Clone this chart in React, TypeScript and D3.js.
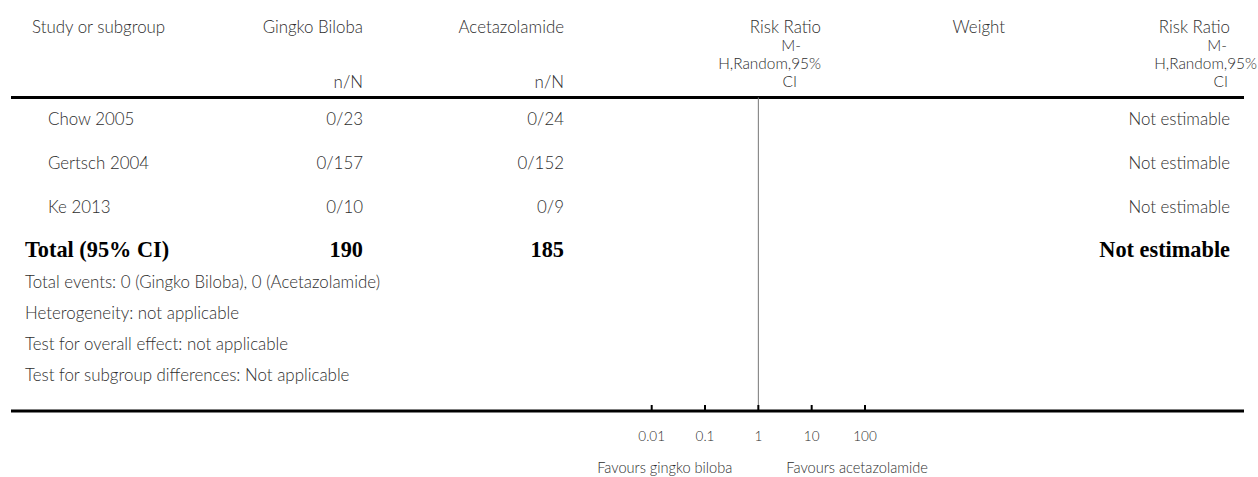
import React from "react";
import * as d3 from "d3";

const studies = ["Chow 2005", "Gertsch 2004", "Ke 2013"];
const gingkoEvents = [0, 0, 0];
const gingkoTotals = [23, 157, 10];
const acetEvents = [0, 0, 0];
const acetTotals = [24, 152, 9];
const studyResults = ["Not estimable", "Not estimable", "Not estimable"];
const totalLabel = "Total (95% CI)";
const totalResult = "Not estimable";
const footnotes = [
  "Total events: 0 (Gingko Biloba), 0 (Acetazolamide)",
  "Heterogeneity: not applicable",
  "Test for overall effect: not applicable",
  "Test for subgroup differences: Not applicable",
];
const axisTicks = [0.01, 0.1, 1, 10, 100];
const favoursLeft = "Favours gingko biloba";
const favoursRight = "Favours acetazolamide";

const W = 1258;
const H = 477;
const SANS = "Lato, 'Open Sans', sans-serif";
const SERIF = "'Liberation Serif', 'DejaVu Serif', serif";
const GREY = "#2e2e2e";
const FS = 16.9;
const FS_SUB = 15.4;

export default function App() {
  const x = d3.scaleLog().domain([0.01, 100]).range([651.7, 865]);
  const rowY = d3.scaleLinear().domain([0, 1]).range([125, 169]);
  const noteY = d3.scaleLinear().domain([0, 1]).range([288, 319]);
  const gTotal = d3.sum(gingkoTotals);
  const aTotal = d3.sum(acetTotals);
  const axisY = 411;
  const headerLineY = 97.5;

  const txt = (s: string, props: any, key?: any) => (
    <text key={key} fontFamily={SANS} fontWeight={300} fontSize={FS} fill={GREY} {...props}>
      {s}
    </text>
  );

  return (
    <svg
      width={W}
      height={H}
      style={{ position: "absolute", left: 0, top: 0, background: "#fff" }}
    >
      {/* header */}
      {txt("Study or subgroup", { x: 32, y: 33 })}
      {txt("Gingko Biloba", { x: 363, y: 33, textAnchor: "end" })}
      {txt("n/N", { x: 363, y: 88, textAnchor: "end" })}
      {txt("Acetazolamide", { x: 564, y: 33, textAnchor: "end" })}
      {txt("n/N", { x: 564, y: 88, textAnchor: "end" })}
      {txt("Risk Ratio", { x: 821, y: 33, textAnchor: "end" })}
      {txt("M-", { x: 801, y: 51, textAnchor: "end", fontSize: FS_SUB })}
      {txt("H,Random,95%", { x: 821, y: 69, textAnchor: "end", fontSize: FS_SUB })}
      {txt("CI", { x: 797, y: 87, textAnchor: "end", fontSize: FS_SUB })}
      {txt("Weight", { x: 1005, y: 33, textAnchor: "end" })}
      {txt("Risk Ratio", { x: 1230, y: 33, textAnchor: "end" })}
      {txt("M-", { x: 1227, y: 51, textAnchor: "end", fontSize: FS_SUB })}
      {txt("H,Random,95%", { x: 1257, y: 69, textAnchor: "end", fontSize: FS_SUB })}
      {txt("CI", { x: 1228, y: 87, textAnchor: "end", fontSize: FS_SUB })}

      <line x1={11} x2={1244} y1={headerLineY} y2={headerLineY} stroke="#000" strokeWidth={3} />

      {/* null line */}
      <line x1={x(1)} x2={x(1)} y1={headerLineY} y2={axisY} stroke="#777" strokeWidth={1} />

      {/* study rows */}
      {studies.map((s, i) => (
        <g key={s}>
          {txt(s, { x: 48, y: rowY(i) })}
          {txt(`${gingkoEvents[i]}/${gingkoTotals[i]}`, { x: 363, y: rowY(i), textAnchor: "end" })}
          {txt(`${acetEvents[i]}/${acetTotals[i]}`, { x: 564, y: rowY(i), textAnchor: "end" })}
          {txt(studyResults[i], { x: 1230, y: rowY(i), textAnchor: "end" })}
        </g>
      ))}

      {/* total row */}
      <g fontFamily={SERIF} fontWeight="bold" fontSize={22.3} fill="#000">
        <text x={25} y={rowY(3)}>{totalLabel}</text>
        <text x={363} y={rowY(3)} textAnchor="end">{gTotal}</text>
        <text x={564} y={rowY(3)} textAnchor="end">{aTotal}</text>
        <text x={1230} y={rowY(3)} textAnchor="end">{totalResult}</text>
      </g>

      {/* footnotes */}
      {footnotes.map((f, i) => txt(f, { x: 25, y: noteY(i) }, f))}

      {/* bottom axis */}
      <line x1={11} x2={1244} y1={axisY} y2={axisY} stroke="#000" strokeWidth={3} />
      {axisTicks.map((t) => (
        <g key={t}>
          <line x1={x(t)} x2={x(t)} y1={axisY - 6} y2={axisY} stroke="#000" strokeWidth={2} />
          <text
            x={x(t)}
            y={441}
            textAnchor="middle"
            fontFamily={SANS}
            fontWeight={300}
            fontSize={13.5}
            fill={GREY}
          >
            {String(t)}
          </text>
        </g>
      ))}
      <text x={x(1) - 26} y={473} textAnchor="end" fontFamily={SANS} fontWeight={300} fontSize={14.6} fill={GREY}>
        {favoursLeft}
      </text>
      <text x={x(1) + 28} y={473} textAnchor="start" fontFamily={SANS} fontWeight={300} fontSize={14.6} fill={GREY}>
        {favoursRight}
      </text>
    </svg>
  );
}
